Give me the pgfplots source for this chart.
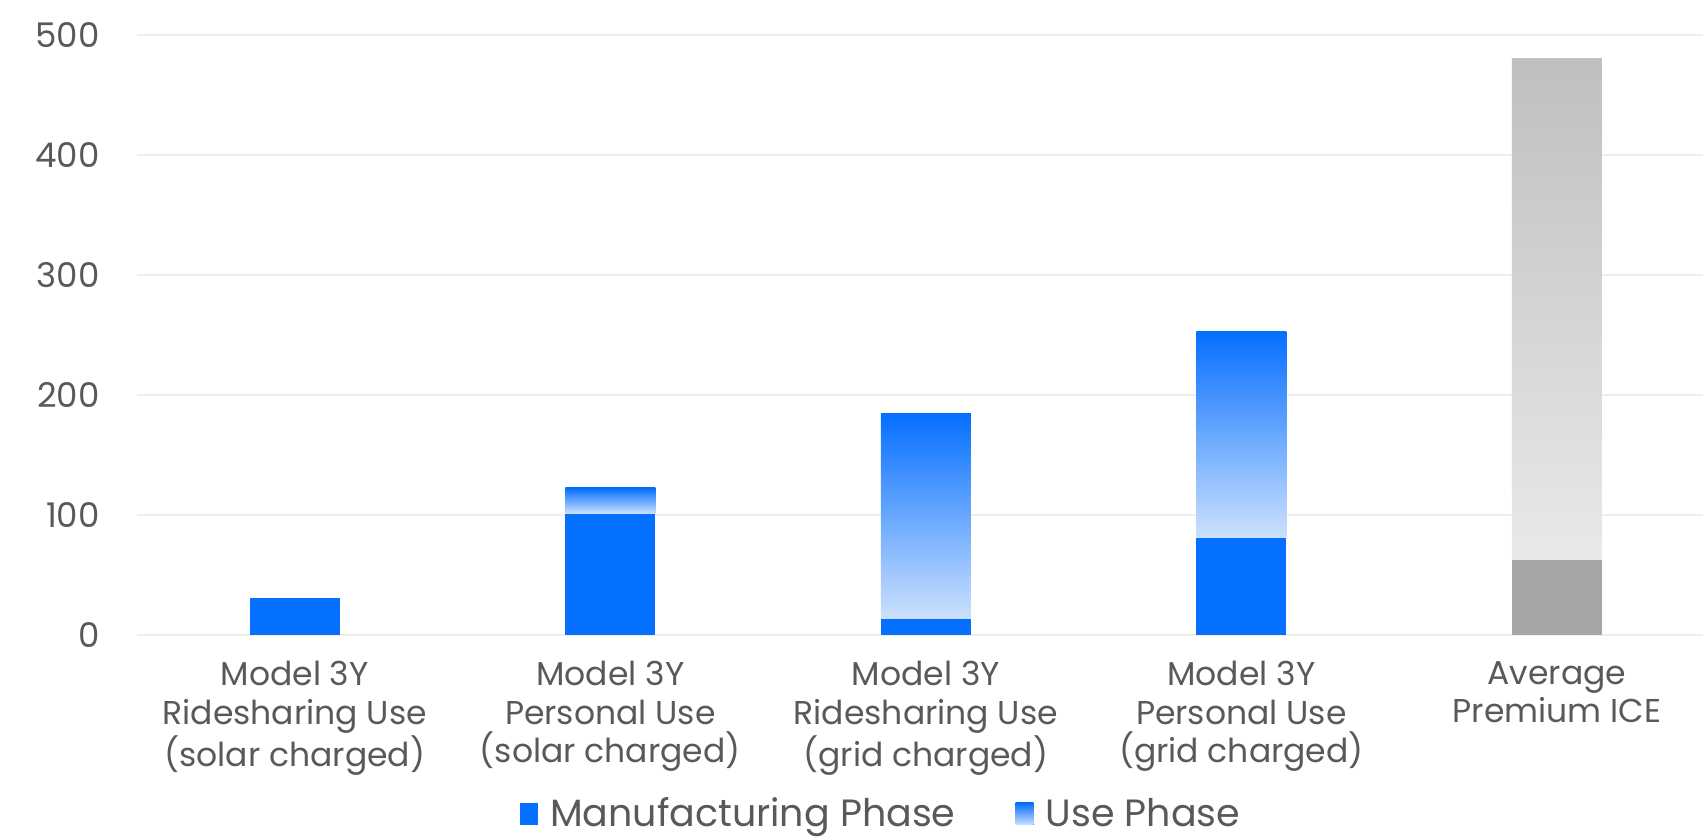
\documentclass[border=0pt]{standalone}
\usepackage{fontspec}
\setmainfont{Poppins}
\usepackage{pgfplots}
\pgfplotsset{compat=1.18}

\definecolor{teslablue}{HTML}{056FFF}
\definecolor{uselight}{HTML}{CDE1FD}
\definecolor{icegray}{HTML}{A6A6A6}
\definecolor{icetop}{HTML}{BFBFBF}
\definecolor{icebottom}{HTML}{E9E9E9}
\definecolor{gridgray}{HTML}{EEEEEE}
\definecolor{labelgray}{HTML}{595959}

% 1 px of the reference = 0.5pt
\pgfplotsset{
  tesla/.style={
    scale only axis,
    width=783pt, height=300pt,
    at={(0,0)}, anchor=south west,
    xmin=-0.5, xmax=4.463,
    ymin=0, ymax=500,
    ybar stacked,
    bar width=45pt,
    axis line style={draw=none},
    tick style={draw=none},
  },
  % one bar per axis, so that each shading spans only its own bar
  barlayer/.style={tesla, hide axis},
  manuf/.style={fill=teslablue, draw=none},
  use/.style={top color=teslablue, bottom color=uselight, draw=none},
  squarelegend/.style={
    legend image code/.code={\fill[##1] (0pt,-5.5pt) rectangle (9pt,5.5pt);}},
}

\begin{document}
\begin{tikzpicture}

\begin{axis}[
  tesla,
  ytick={0,100,200,300,400,500},
  ymajorgrids,
  grid style={gridgray, line width=0.75pt},
  /pgf/number format/assume math mode=true,
  yticklabel style={anchor=east, inner sep=0pt, xshift=-18.5pt,
    font=\fontsize{17}{19}\selectfont, text=labelgray},
  xtick={0,1,2,3,4},
  xticklabels={
    {Model 3Y\\Ridesharing Use\\(solar charged)},
    {Model 3Y\\Personal Use\\(solar charged)},
    {Model 3Y\\Ridesharing Use\\(grid charged)},
    {Model 3Y\\Personal Use\\(grid charged)},
    {Average\\Premium ICE}},
  xticklabel style={align=center, anchor=north, inner sep=0pt, yshift=-13pt,
    font=\fontsize{16.5}{19.25}\selectfont, text=labelgray},
  legend style={at={(0.4745,-0.2983)}, anchor=center, draw=none, fill=none,
    legend columns=2, font=\fontsize{19}{22}\selectfont, text=labelgray,
    nodes={inner sep=0pt},
    /tikz/every odd column/.append style={column sep=6pt},
    /tikz/every even column/.append style={column sep=30pt}},
]
% Model 3Y ridesharing, solar: manufacturing only
\addplot[manuf, squarelegend] coordinates {(0,31)};
\addlegendentry{Manufacturing Phase}
\addlegendimage{use, squarelegend}
\addlegendentry{Use Phase}
\end{axis}

% Model 3Y personal, solar
\begin{axis}[barlayer]
\addplot[manuf] coordinates {(1,101)};
\addplot[use] coordinates {(1,21.5)};
\end{axis}

% Model 3Y ridesharing, grid
\begin{axis}[barlayer]
\addplot[manuf] coordinates {(2,13)};
\addplot[use] coordinates {(2,171.5)};
\end{axis}

% Model 3Y personal, grid
\begin{axis}[barlayer]
\addplot[manuf] coordinates {(3,81)};
\addplot[use] coordinates {(3,171.5)};
\end{axis}

% Average premium ICE
\begin{axis}[barlayer]
\addplot[fill=icegray, draw=none] coordinates {(4,62.5)};
\addplot[top color=icetop, bottom color=icebottom, draw=none] coordinates {(4,417.5)};
\end{axis}

\pgfresetboundingbox
\path (-68.5pt,-101.5pt) rectangle (783pt,317.5pt);

\end{tikzpicture}
\end{document}
